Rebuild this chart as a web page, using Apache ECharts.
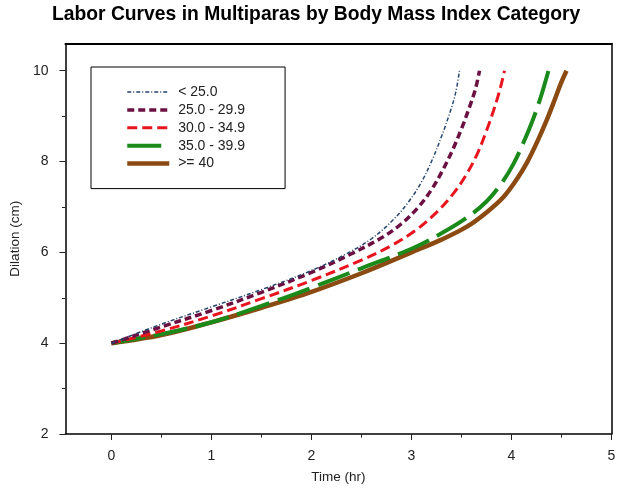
<!DOCTYPE html>
<html>
<head>
<meta charset="utf-8">
<script src="https://cdn.jsdelivr.net/npm/echarts@6/dist/echarts.min.js"></script>
<style>html,body{margin:0;padding:0;background:#fff;}#c{width:624px;height:489px;}</style>
</head>
<body>
<div id="c"></div>
<script>
// Categories (BMI groups)
const categories = ['< 25.0', '25.0 - 29.9', '30.0 - 34.9', '35.0 - 39.9', '>= 40'];
// Tick labels
const xTicks = [0, 1, 2, 3, 4, 5];
const xMinorTicks = [0.5, 1.5, 2.5, 3.5, 4.5];
const yTicks = [2, 4, 6, 8, 10];
const yMinorTicks = [3, 5, 7, 9];
// Series values: [time (hr), dilation (cm)]
const bmiUnder25 = [[0,4],[0.5,4.42],[1.0,4.8],[1.5,5.18],[2.0,5.6],[2.35,5.97],[2.6,6.3],[2.8,6.68],[2.96,7.08],[3.1,7.55],[3.21,8.05],[3.3,8.55],[3.38,9.05],[3.44,9.5],[3.48,10]];
const bmi25to29 = [[0,4],[0.5,4.36],[1.0,4.72],[1.5,5.12],[2.0,5.56],[2.4,5.97],[2.7,6.32],[2.9,6.63],[3.07,7.0],[3.2,7.38],[3.31,7.8],[3.41,8.25],[3.5,8.72],[3.58,9.2],[3.64,9.6],[3.68,10]];
const bmi30to34 = [[0,4],[0.5,4.27],[1.0,4.6],[1.5,4.98],[2.0,5.38],[2.5,5.83],[2.8,6.15],[3.05,6.5],[3.25,6.88],[3.42,7.3],[3.55,7.72],[3.66,8.18],[3.75,8.68],[3.82,9.12],[3.88,9.55],[3.93,10]];
const bmi35to39 = [[0,4],[0.5,4.2],[1.0,4.46],[1.5,4.82],[2.0,5.22],[2.5,5.65],[3.0,6.08],[3.3,6.42],[3.55,6.76],[3.75,7.12],[3.9,7.52],[4.02,7.95],[4.12,8.42],[4.21,8.9],[4.29,9.4],[4.37,10]];
const bmi40plus = [[0,4],[0.5,4.18],[1.0,4.46],[1.5,4.78],[2.0,5.13],[2.5,5.54],[3.0,6.0],[3.3,6.28],[3.55,6.56],[3.75,6.88],[3.92,7.22],[4.05,7.6],[4.16,8.0],[4.26,8.45],[4.35,8.9],[4.43,9.35],[4.49,9.7],[4.55,10]];

const seriesData = [bmiUnder25, bmi25to29, bmi30to34, bmi35to39, bmi40plus];
const styles = [
  {color: '#26466D', width: 1.5, type: [4, 2, 1, 2]},
  {color: '#6B1040', width: 3.5, type: [7, 4]},
  {color: '#E8141E', width: 3, type: [10, 5]},
  {color: '#1A8A1A', width: 4, type: [34, 9]},
  {color: '#8B4A12', width: 4.5, type: 'solid'}
];

const chart = echarts.init(document.getElementById('c'), null, {renderer: 'canvas'});
const font = 'Liberation Sans, Arial, sans-serif';
const axisCommon = {
  type: 'value', min: -0.46, max: 5, splitLine: {show: false}
};
chart.setOption({
  animation: false,
  backgroundColor: '#fff',
  title: {
    text: 'Labor Curves in Multiparas by Body Mass Index Category',
    left: 47, top: 0,
    textStyle: {fontFamily: font, fontSize: 19.3, fontWeight: 'bold', color: '#000'}
  },
  grid: {left: 55, right: 12.5, top: 43.5, bottom: 55},
  legend: {
    orient: 'vertical', left: 91, top: 67,
    padding: [18, 40, 18, 34],
    itemGap: 3.9, itemWidth: 42, itemHeight: 14,
    borderColor: '#000', borderWidth: 1,
    data: categories,
    formatter: n => ' ' + n,
    textStyle: {fontFamily: font, fontSize: 14, color: '#222'},
    itemStyle: {opacity: 0, color: 'transparent', borderWidth: 0},
    lineStyle: {width: 'inherit'}
  },
  xAxis: [
    Object.assign({}, axisCommon, {
      position: 'bottom',
      name: 'Time (hr)', nameLocation: 'middle', nameGap: 36,
      nameTextStyle: {fontFamily: font, fontSize: 13.5, color: '#222'},
      axisLine: {onZero: false, lineStyle: {color: '#000', width: 1.5}},
      axisTick: {show: true, length: 6, lineStyle: {color: '#222'}, customValues: xTicks},
      axisLabel: {fontFamily: font, fontSize: 14, color: '#222', margin: 15, customValues: xTicks}
    }),
    Object.assign({}, axisCommon, {
      position: 'bottom',
      axisLine: {show: false, onZero: false},
      axisTick: {show: true, length: 3.5, lineStyle: {color: '#222'}, customValues: xMinorTicks},
      axisLabel: {show: false}
    }),
    Object.assign({}, axisCommon, {
      position: 'top',
      axisLine: {show: true, onZero: false, lineStyle: {color: '#000', width: 2}},
      axisTick: {show: false}, axisLabel: {show: false}
    })
  ],
  yAxis: [
    {
      type: 'value', min: 2, max: 10.6, position: 'left',
      name: 'Dilation (cm)', nameLocation: 'middle', nameGap: 31,
      nameTextStyle: {fontFamily: font, fontSize: 13.5, color: '#222'},
      splitLine: {show: false},
      axisLine: {show: true, onZero: false, lineStyle: {color: '#000', width: 1.5}},
      axisTick: {show: true, length: 6, lineStyle: {color: '#222'}, customValues: yTicks},
      axisLabel: {fontFamily: font, fontSize: 14, color: '#222', margin: 17, customValues: yTicks}
    },
    {
      type: 'value', min: 2, max: 10.6, position: 'left',
      splitLine: {show: false},
      axisLine: {show: false, onZero: false},
      axisTick: {show: true, length: 3.5, lineStyle: {color: '#222'}, customValues: yMinorTicks},
      axisLabel: {show: false}
    },
    {
      type: 'value', min: 2, max: 10.6, position: 'right',
      splitLine: {show: false},
      axisLine: {show: true, onZero: false, lineStyle: {color: '#000', width: 1.5}},
      axisTick: {show: false}, axisLabel: {show: false}
    }
  ],
  series: categories.map((name, i) => ({
    name: name,
    type: 'line',
    xAxisIndex: 0, yAxisIndex: 0,
    data: seriesData[i],
    smooth: 0.35,
    symbol: 'none',
    z: 10 - i,
    itemStyle: {color: styles[i].color},
    lineStyle: {color: styles[i].color, width: styles[i].width, type: styles[i].type, cap: 'butt'}
  }))
});
</script>
</body>
</html>
